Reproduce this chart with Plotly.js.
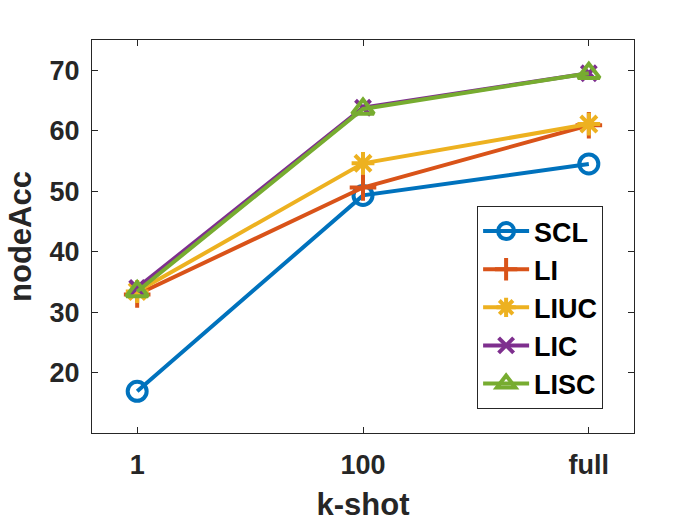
<!DOCTYPE html>
<html>
<head>
<meta charset="utf-8">
<script src="https://cdn.plot.ly/plotly-3.0.1.min.js"></script>
<style>
  html, body { margin: 0; padding: 0; background: #fff; }
  #chart { width: 700px; height: 525px; }
</style>
</head>
<body>
<div id="chart"></div>
<script>
const kShot = ['1', '100', 'full'];
const scl  = [16.9, 49.3, 54.5];
const li   = [32.9, 50.6, 60.9];
const liuc = [33.4, 54.6, 61.1];
const lic  = [34.0, 63.8, 69.5];
const lisc = [33.4, 63.6, 69.5];
const yTicks = [20, 30, 40, 50, 60, 70];

const FONT = 'Liberation Sans, Arial, sans-serif';
const INK = '#262626';

const series = [
    { name: 'SCL',  y: scl,  color: '#0072BD', symbol: 'circle-open',      size: 19 },
    { name: 'LI',   y: li,   color: '#D95319', symbol: 'cross-thin-open',  size: 19 },
    { name: 'LIUC', y: liuc, color: '#EDB120', symbol: 'asterisk-open',    size: 19 },
    { name: 'LIC',  y: lic,  color: '#7E2F8E', symbol: 'x-thin-open',      size: 15 },
    { name: 'LISC', y: lisc, color: '#77AC30', symbol: 'triangle-up-open', size: 19 },
];

const traces = series.map(s => ({
    type: 'scatter',
    mode: 'lines+markers',
    name: s.name,
    x: [0, 1, 2],
    y: s.y,
    line: { color: s.color, width: 4 },
    marker: {
        symbol: s.symbol,
        size: s.size,
        color: s.color,
        line: { color: s.color, width: 4 },
    },
}));

const axisCommon = {
    showline: true,
    linecolor: INK,
    linewidth: 1,
    mirror: 'ticks',
    ticks: 'inside',
    ticklen: 6,
    tickcolor: INK,
    tickwidth: 1,
    showgrid: false,
    zeroline: false,
    tickfont: { family: FONT, size: 27, color: INK, weight: 'bold' },
};

const layout = {
    width: 700,
    height: 525,
    margin: { l: 92, r: 66, t: 40, b: 92 },
    paper_bgcolor: '#fff',
    plot_bgcolor: '#fff',
    showlegend: true,
    xaxis: Object.assign({}, axisCommon, {
        range: [-0.2, 2.2],
        tickvals: [0, 1, 2],
        ticktext: kShot,
        ticklabelstandoff: 8,
        title: { text: 'k-shot', font: { family: FONT, size: 31, color: INK, weight: 'bold' }, standoff: 13 },
    }),
    yaxis: Object.assign({}, axisCommon, {
        range: [10, 75],
        tickvals: yTicks,
        ticklabelstandoff: 6,
        title: { text: 'nodeAcc', font: { family: FONT, size: 31, color: INK, weight: 'bold' }, standoff: 8 },
    }),
    legend: {
        x: 0.943,
        y: 0.061,
        xanchor: 'right',
        yanchor: 'bottom',
        bgcolor: '#fff',
        bordercolor: INK,
        borderwidth: 1,
        itemwidth: 46,
        tracegroupgap: 0,
        font: { family: FONT, size: 27, color: '#000', weight: 'bold' },
    },
};

Plotly.newPlot('chart', traces, layout, { displayModeBar: false, staticPlot: true });
</script>
</body>
</html>
